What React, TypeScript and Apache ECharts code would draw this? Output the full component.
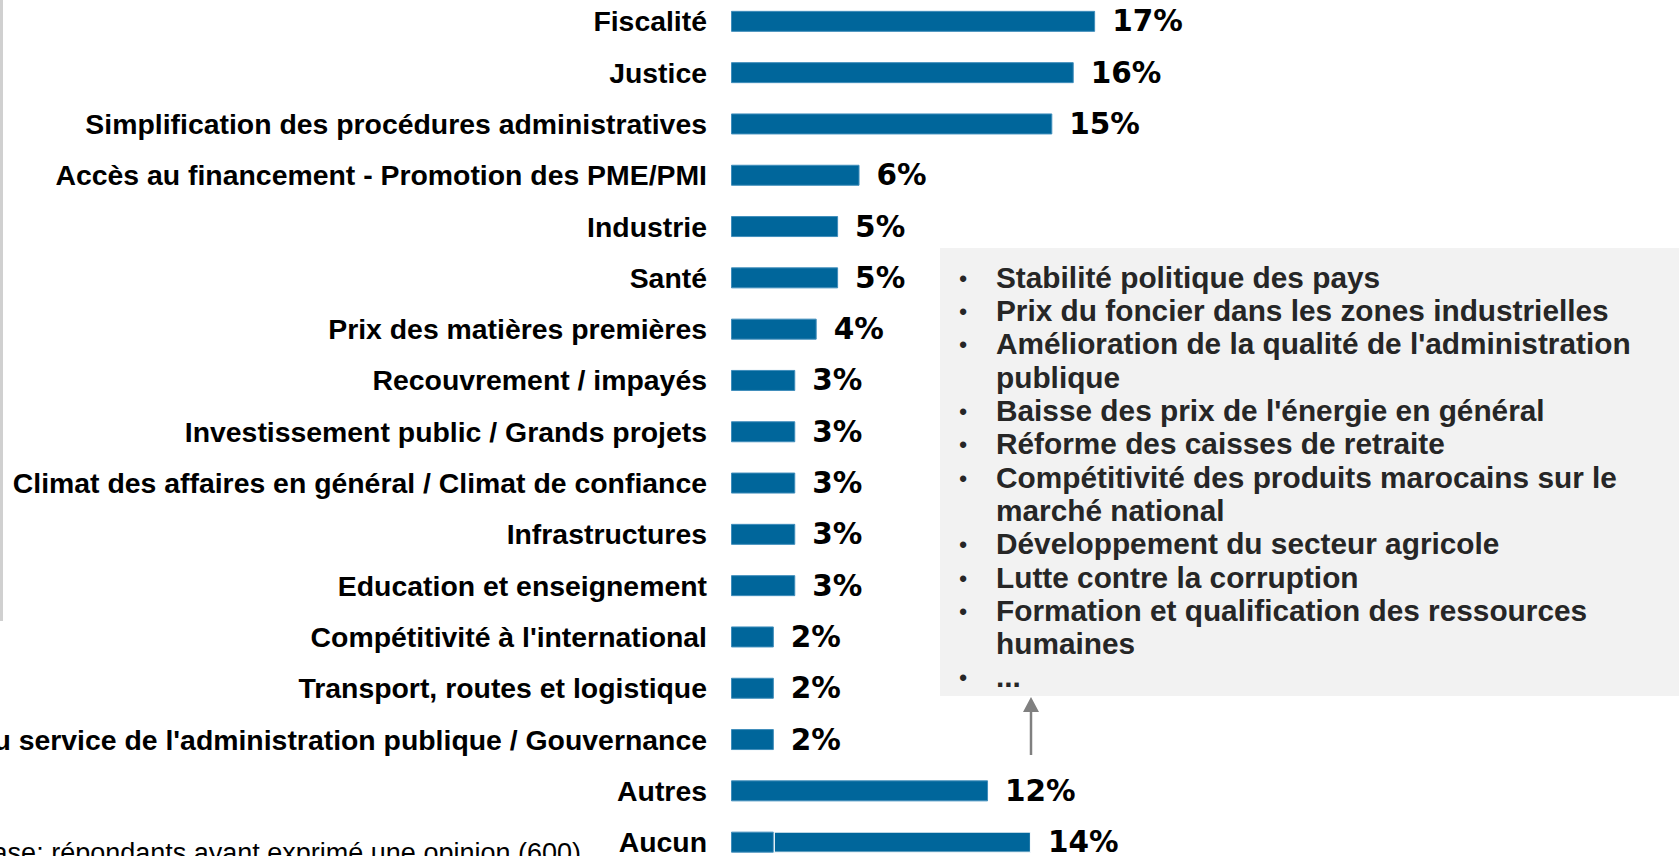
import React, { useEffect, useRef } from "react";
import * as echarts from "echarts";

const categories = [
  "Fiscalité",
  "Justice",
  "Simplification des procédures administratives",
  "Accès au financement - Promotion des PME/PMI",
  "Industrie",
  "Santé",
  "Prix des matières premières",
  "Recouvrement / impayés",
  "Investissement public / Grands projets",
  "Climat des affaires en général / Climat de confiance",
  "Infrastructures",
  "Education et enseignement",
  "Compétitivité à l'international",
  "Transport, routes et logistique",
  "Qualité du service de l'administration publique / Gouvernance",
  "Autres",
  "Aucun",
];

const values = [17, 16, 15, 6, 5, 5, 4, 3, 3, 3, 3, 3, 2, 2, 2, 12, 14];

// The "Aucun" bar is drawn in two pieces in the original (first piece = 2 points)
const splitCategory = "Aucun";
const splitFirstPart = 2;

const boxItems: string[][] = [
  ["Stabilité politique des pays"],
  ["Prix du foncier dans les zones industrielles"],
  ["Amélioration de la qualité de l'administration", "publique"],
  ["Baisse des prix de l'énergie en général"],
  ["Réforme des caisses de retraite"],
  ["Compétitivité des produits marocains sur le", "marché national"],
  ["Développement du secteur agricole"],
  ["Lutte contre la corruption"],
  ["Formation et qualification des ressources", "humaines"],
  ["..."],
];

const footnote = "Base: répondants ayant exprimé une opinion (600)";

const BAR_COLOR = "#00669b";
const LABEL_FONT = "Liberation Sans";
const VALUE_FONT = "DejaVu Sans";

export default function App() {
  const ref = useRef<HTMLDivElement>(null);

  useEffect(() => {
    if (!ref.current) return;
    const chart = echarts.init(ref.current, null, { renderer: "svg" });

    const baseData = values.map((v, i) =>
      categories[i] === splitCategory ? splitFirstPart : v
    );
    const restData = values.map((v, i) =>
      categories[i] === splitCategory
        ? { value: v - splitFirstPart, itemStyle: { borderColor: "#ffffff", borderWidth: 1 } }
        : "-"
    );

    const boxLeft = 940;
    const boxTop = 248;
    const lineTop = 277.3;
    const lineStep = 33.3;
    const boxGraphics: any[] = [
      {
        type: "rect",
        shape: { x: boxLeft, y: boxTop, width: 1679 - boxLeft, height: 696 - boxTop },
        style: { fill: "#f2f2f2" },
        z: 0,
      },
    ];
    let line = 0;
    boxItems.forEach((item) => {
      boxGraphics.push({
        type: "text",
        style: {
          text: "•",
          x: 963,
          y: lineTop + line * lineStep + 1,
          fontFamily: LABEL_FONT,
          fontSize: 22,
          fontWeight: "bold",
          fill: "#262626",
          textAlign: "center",
          textVerticalAlign: "middle",
        },
        z: 1,
      });
      item.forEach((t) => {
        boxGraphics.push({
          type: "text",
          style: {
            text: t,
            x: 996,
            y: lineTop + line * lineStep,
            fontFamily: LABEL_FONT,
            fontSize: 29.8,
            fontWeight: "bold",
            fill: "#262626",
            textAlign: "left",
            textVerticalAlign: "middle",
          },
          z: 1,
        });
        line += 1;
      });
    });

    const valueLabel = {
      show: true,
      position: "right",
      distance: 17,
      color: "#000000",
      fontFamily: VALUE_FONT,
      fontWeight: "bold",
      fontSize: 29.5,
    };

    const option: any = {
      animation: false,
      backgroundColor: "#ffffff",
      grid: {
        left: 731,
        top: -4.3,
        width: 856.8,
        height: 17 * 51.3,
        containLabel: false,
        outerBoundsMode: "none",
      },
      xAxis: {
        type: "value",
        min: 0,
        max: 40,
        show: false,
      },
      yAxis: {
        type: "category",
        data: categories,
        inverse: true,
        axisLine: { show: false },
        axisTick: { show: false },
        splitLine: { show: false },
        axisLabel: {
          interval: 0,
          margin: 24,
          color: "#000000",
          fontFamily: LABEL_FONT,
          fontWeight: "bold",
          fontSize: 28.4,
        },
      },
      series: [
        {
          type: "bar",
          stack: "total",
          data: baseData,
          barWidth: 21,
          itemStyle: { color: BAR_COLOR, borderColor: "#3f8dbb", borderWidth: 1 },
          label: {
            ...valueLabel,
            formatter: (p: any) =>
              categories[p.dataIndex] === splitCategory ? "" : values[p.dataIndex] + "%",
          },
        },
        {
          type: "bar",
          stack: "total",
          data: restData,
          barWidth: 21,
          itemStyle: { color: BAR_COLOR },
          label: {
            ...valueLabel,
            formatter: (p: any) => values[p.dataIndex] + "%",
          },
        },
      ],
      graphic: [
        {
          type: "rect",
          shape: { x: 0, y: 0, width: 3, height: 621 },
          style: { fill: "#d0d0d0" },
        },
        ...boxGraphics,
        {
          type: "line",
          shape: { x1: 1031, y1: 755, x2: 1031, y2: 710 },
          style: { stroke: "#808080", lineWidth: 2.5 },
        },
        {
          type: "polygon",
          shape: { points: [[1023, 712], [1039, 712], [1031, 697]] },
          style: { fill: "#808080" },
        },
        {
          type: "text",
          style: {
            text: footnote,
            x: 581,
            y: 853,
            fontFamily: LABEL_FONT,
            fontSize: 27,
            fill: "#000000",
            textAlign: "right",
            textVerticalAlign: "middle",
          },
        },
      ],
    };

    chart.setOption(option);
    return () => chart.dispose();
  }, []);

  return (
    <div
      ref={ref}
      style={{ position: "fixed", left: 0, top: 0, width: 1679, height: 856 }}
    />
  );
}
